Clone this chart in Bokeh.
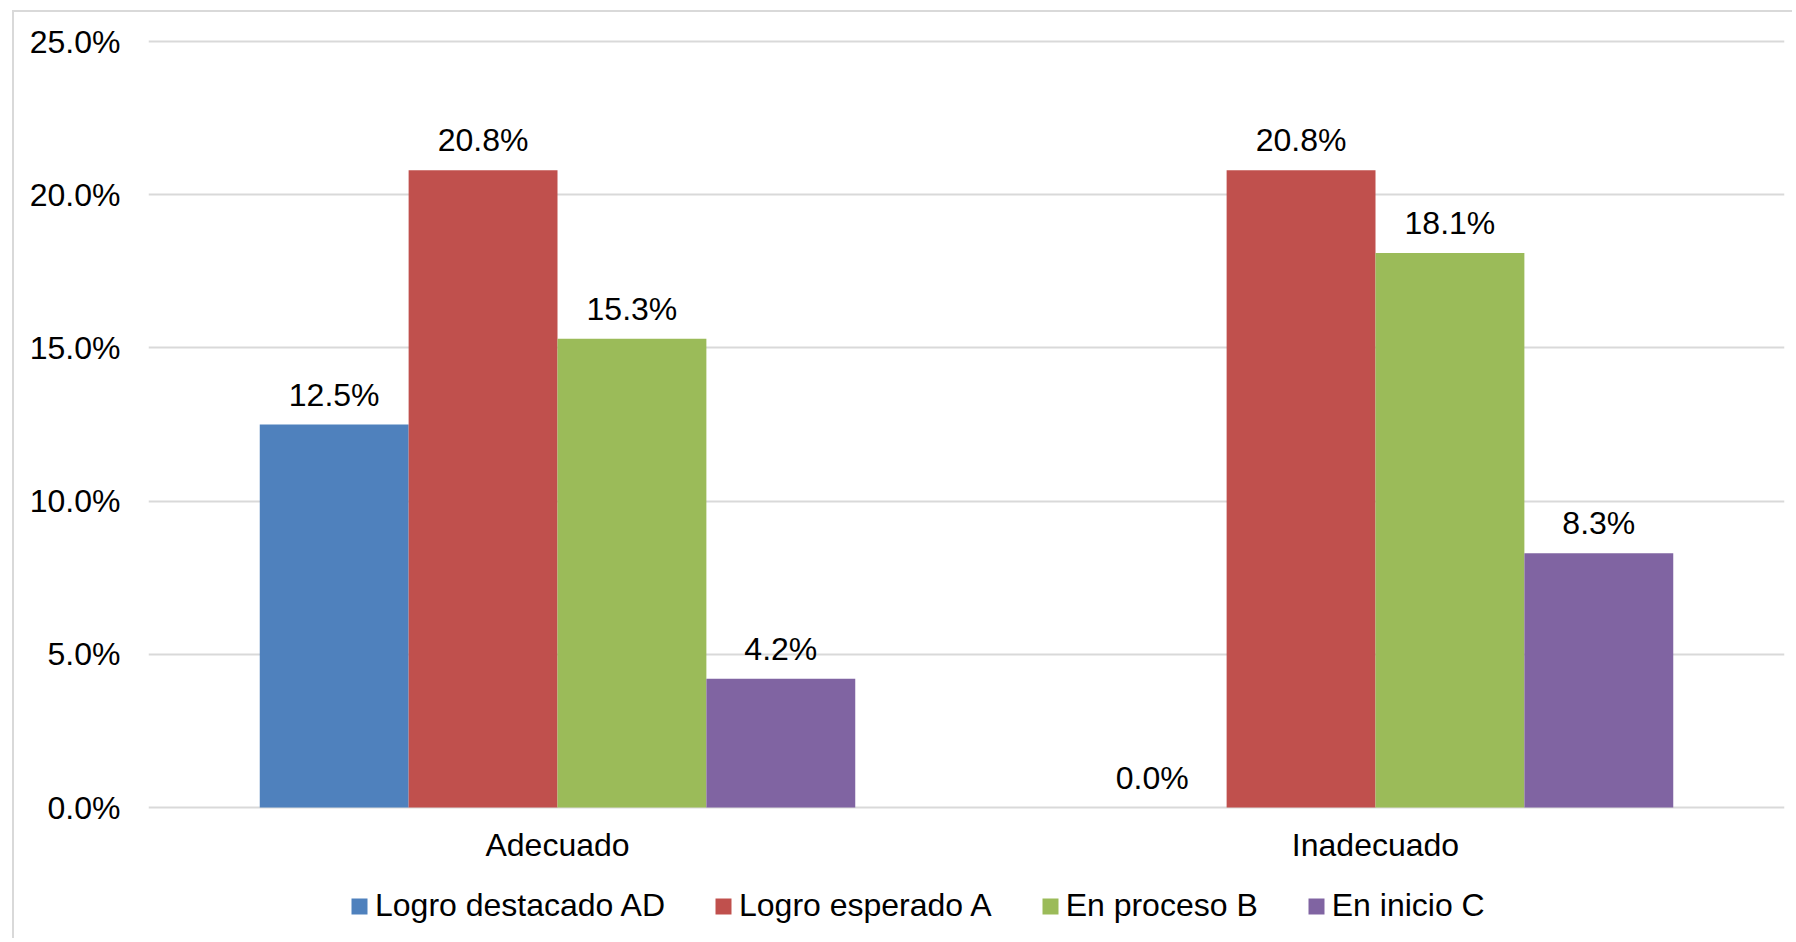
from bokeh.plotting import figure
from bokeh.models import FactorRange, Range1d, ColumnDataSource, NumeralTickFormatter, Legend, LegendItem, FixedTicker
from bokeh.transform import dodge
from bokeh.core.properties import value
from bokeh.embed import file_html
from bokeh.resources import INLINE

categories = ["Adecuado", "Inadecuado"]
series_names = ["Logro destacado AD", "Logro esperado A", "En proceso B", "En inicio C"]
logro_destacado = [0.125, 0.0]
logro_esperado = [0.208, 0.208]
en_proceso = [0.153, 0.181]
en_inicio = [0.042, 0.083]
y_ticks = [0.0, 0.05, 0.10, 0.15, 0.20, 0.25]
category_baseline = [0.0, 0.0]

colors = ["#4F81BD", "#C0504D", "#9BBB59", "#8064A2"]
offsets = [-0.273, -0.091, 0.091, 0.273]
bar_w = 0.182
FONT = "Liberation Sans"
FS = "32px"

# frame: top slightly above the 25% line, bottom extended to hold the category labels and legend
px_per_unit = 766 / 0.25
y_end = 0.25 + 5 / px_per_unit
y_start = -129 / px_per_unit

p = figure(width=1780, height=928, output_backend="svg", toolbar_location=None,
           x_range=FactorRange(factors=categories, range_padding=0),
           y_range=Range1d(y_start, y_end),
           min_border_left=134, min_border_right=10, min_border_top=24, min_border_bottom=4)
p.outline_line_color = None
p.background_fill_color = "white"
p.border_fill_color = "white"
p.styles = {"border-left": "2px solid #d9d9d9", "border-top": "2px solid #d9d9d9",
            "margin-left": "12px", "margin-top": "10px"}

items = []
for name, vals, col, off in zip(series_names, [logro_destacado, logro_esperado, en_proceso, en_inicio], colors, offsets):
    src = ColumnDataSource(dict(cat=categories, val=vals, lab=[f"{v*100:.1f}%" for v in vals]))
    r = p.vbar(x=dodge("cat", off, range=p.x_range), top="val", width=bar_w, source=src,
               fill_color=col, line_color=None)
    p.text(x=dodge("cat", off, range=p.x_range), y="val", text="lab", source=src,
           text_align="center", text_baseline="alphabetic", y_offset=-30,
           text_font=value(FONT), text_font_size=FS, text_color="black")
    items.append(LegendItem(label=name, renderers=[r]))

# category labels under the zero line
p.text(x=categories, y=category_baseline, text=categories,
       text_align="center", text_baseline="middle", y_offset=37,
       text_font=value(FONT), text_font_size=FS, text_color="black")

legend = Legend(items=items, orientation="horizontal", location=(201, 12),
                glyph_width=20, glyph_height=20, label_standoff=6, spacing=48,
                padding=0, margin=0, border_line_color=None, background_fill_alpha=0,
                label_text_font=FONT, label_text_font_size=FS, label_text_color="black")
p.add_layout(legend, "center")

p.xgrid.grid_line_color = None
p.ygrid.grid_line_color = "#d9d9d9"
p.ygrid.grid_line_width = 2
p.ygrid.ticker = FixedTicker(ticks=y_ticks)

p.xaxis.visible = False
p.yaxis.ticker = FixedTicker(ticks=y_ticks)
p.yaxis.formatter = NumeralTickFormatter(format="0.0%")
ax = p.yaxis[0]
ax.axis_line_color = None
ax.major_tick_line_color = None
ax.minor_tick_line_color = None
ax.major_tick_out = 0
ax.major_tick_in = 0
ax.major_label_text_font = FONT
ax.major_label_text_font_size = FS
ax.major_label_text_color = "black"
ax.major_label_standoff = 28

open("out.html", "w").write(file_html(p, INLINE))
